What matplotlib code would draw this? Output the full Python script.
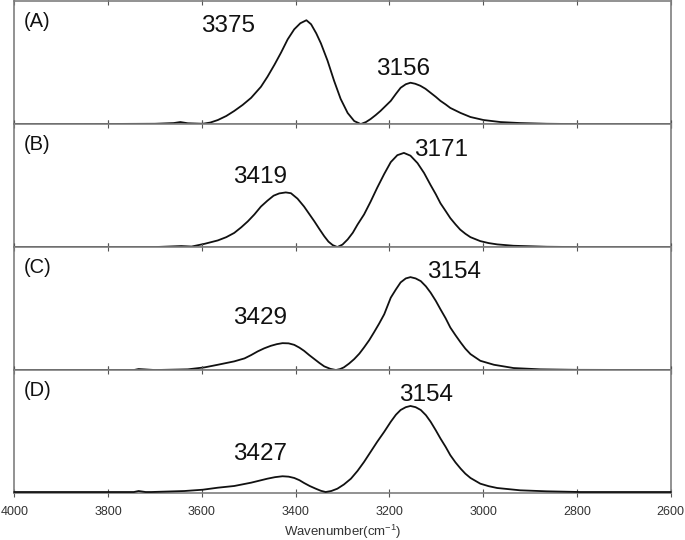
"""FTIR O-H / N-H stretching region, four samples stacked."""
import matplotlib
matplotlib.use("Agg")
import matplotlib.pyplot as plt

plt.rcParams["font.family"] = ["Liberation Sans", "DejaVu Sans"]
plt.rcParams["mathtext.default"] = "regular"

# wavenumber (cm-1) and intensity (arb. units)
wn_a = [4000, 3850, 3700, 3660, 3646, 3630, 3598, 3582, 3566, 3548, 3531, 3513, 3495,
        3474, 3460, 3445, 3431, 3417, 3403, 3390, 3377, 3367, 3356, 3346, 3332, 3318,
        3304, 3289, 3275, 3261, 3250, 3240, 3229, 3219, 3208, 3197, 3186, 3176, 3165,
        3155, 3145, 3134, 3123, 3112, 3101, 3091, 3080, 3070, 3059, 3048, 3027, 2999,
        2963, 2921, 2864, 2800, 2700, 2600]
ab_a = [0, 0, 0.3, 1, 2, 0.8, 0.3, 1.5, 4, 8, 13, 19, 26,
        37, 47, 59, 71, 84, 94, 100, 103, 99, 90, 80, 63, 43,
        25, 11, 3, 0, 2, 5, 9, 13, 18, 23, 30, 36, 39.5,
        41, 40, 38, 35, 31, 27, 23, 19.5, 16, 13.5, 11, 7, 4,
        2, 1, 0.3, 0, 0, 0]

wn_b = [4000, 3800, 3700, 3644, 3622, 3594, 3566, 3548, 3531, 3516, 3502, 3488, 3474,
        3460, 3447, 3435, 3421, 3410, 3396, 3382, 3371, 3360, 3349, 3339, 3330, 3321,
        3311, 3300, 3289, 3278, 3268, 3254, 3240, 3226, 3211, 3197, 3183, 3169, 3155,
        3140, 3126, 3112, 3101, 3091, 3080, 3070, 3059, 3049, 3038, 3027, 3006, 2988,
        2970, 2935, 2864, 2800, 2600]
ab_b = [0, 0, 0, 1, 0.5, 3.3, 6.7, 10, 14.3, 20, 26, 33, 41,
        47, 52, 54.3, 55.3, 54.5, 49, 41, 33.5, 26, 18, 11, 5.5, 2,
        0, 2.5, 7.7, 14.5, 22.7, 33, 46, 60, 74, 86, 93, 95.3, 92.5,
        85, 75, 62.7, 53.5, 44.3, 36.5, 29.3, 23, 17.7, 13.5, 10, 6, 4,
        2.7, 1.3, 0.3, 0, 0]

wn_c = [4000, 3800, 3745, 3735, 3700, 3630, 3594, 3566, 3531, 3509, 3495, 3481, 3467,
        3453, 3440, 3428, 3415, 3403, 3392, 3382, 3371, 3360, 3349, 3339, 3326, 3314,
        3305, 3297, 3286, 3275, 3264, 3254, 3243, 3233, 3222, 3211, 3197, 3186, 3176,
        3165, 3155, 3144, 3133, 3122, 3112, 3101, 3091, 3080, 3070, 3059, 3048, 3038,
        3027, 3006, 2977, 2935, 2878, 2800, 2600]
ab_c = [0, 0, 0, 1, 0, 0.7, 2.7, 5.3, 8.7, 11.7, 15, 18.7, 21.8,
        24.3, 26, 27, 26.8, 25.3, 22.5, 19.3, 15, 11, 7, 3.7, 1.2, 0,
        1, 2.7, 6.5, 11, 16.5, 22.7, 30, 37.7, 46.5, 56, 72.7, 81, 88,
        92, 93.3, 92, 89.3, 84, 77.7, 69.5, 61, 52, 42.7, 35, 27.7, 21.5,
        16, 9.3, 5.3, 2, 0.7, 0.2, 0]

wn_d = [4000, 3900, 3800, 3745, 3735, 3720, 3708, 3637, 3598, 3566, 3531, 3495, 3460,
        3444, 3428, 3415, 3403, 3392, 3382, 3370, 3357, 3346, 3336, 3324, 3311, 3297,
        3282, 3268, 3254, 3240, 3226, 3211, 3197, 3186, 3176, 3165, 3155, 3144, 3133,
        3122, 3112, 3101, 3091, 3080, 3070, 3059, 3048, 3038, 3027, 3006, 2988, 2970,
        2921, 2864, 2793, 2700, 2600]
ab_d = [1, 1, 1, 1, 2, 1, 1, 2, 3.3, 5.3, 7, 10.3, 14.3,
        15.8, 16.7, 16.3, 15, 12.8, 10, 7, 4.3, 2.2, 1, 2, 4.3, 8.5,
        14.3, 22, 31, 41, 51, 61, 71, 78, 82.7, 85.5, 86.7, 85.5, 82.7,
        77.5, 71, 62.5, 54.3, 46, 37.7, 30.5, 24.3, 19.3, 15, 9.3, 6.8, 5,
        2.7, 1.7, 1, 1, 1]

panel_names = ["(A)", "(B)", "(C)", "(D)"]
panel_tops = [122, 124.5, 123.5, 122.5]
peak_labels = [
    [("3375", 3544, 0.80), ("3156", 3171, 0.445)],
    [("3419", 3475, 0.566), ("3171", 3090, 0.786)],
    [("3429", 3475, 0.42), ("3154", 3061, 0.80)],
    [("3427", 3476, 0.32), ("3154", 3121, 0.80)],
]
xticks = [4000, 3800, 3600, 3400, 3200, 3000, 2800, 2600]


def main() -> None:
    fig, axes = plt.subplots(4, 1, sharex=True, figsize=(6.85, 5.4), dpi=100)
    fig.subplots_adjust(left=0.021, right=0.979, bottom=0.087, top=0.998, hspace=0)

    series = [(wn_a, ab_a), (wn_b, ab_b), (wn_c, ab_c), (wn_d, ab_d)]
    for i, ax in enumerate(axes):
        wn, ab = series[i]
        ax.plot(wn, ab, color="#111111", lw=1.3, clip_on=False, zorder=3)
        ax.set_ylim(0, panel_tops[i])
        ax.set_yticks([])
        for s in ax.spines.values():
            s.set_color("#7f7f7f")
            s.set_linewidth(1.2)
        ax.tick_params(axis="x", which="both", direction="inout", top=True,
                       bottom=True, length=6, width=0.8, color="#555555",
                       labelsize=9, labelcolor="#333333", pad=6)
        if i < 3:
            ax.tick_params(axis="x", labelbottom=False)
        ax.text(0.014, 0.83, panel_names[i], transform=ax.transAxes,
                fontsize=14.5, ha="left", va="center", color="#111111")
        for txt, x, y in peak_labels[i]:
            ax.text(x, y, txt, transform=ax.get_xaxis_transform(),
                    fontsize=17.5, ha="center", va="center", color="#111111")

    axes[-1].set_xlim(4000, 2600)
    axes[-1].set_xticks(xticks)
    axes[-1].set_xlabel("Wavenumber(cm$^{-1}$)", fontsize=9.5, color="#333333",
                        labelpad=4)

    fig.savefig("out.png", dpi=100)
    plt.close(fig)


if __name__ == "__main__":
    main()
